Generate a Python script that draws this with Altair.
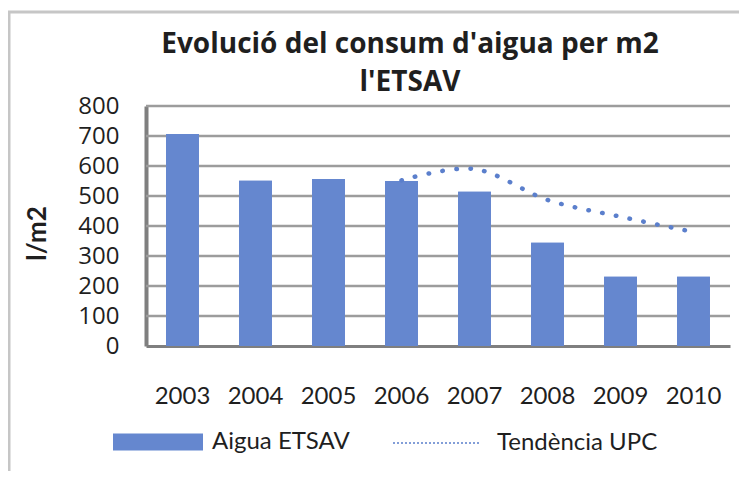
import altair as alt
import pandas as pd

# ---- data ----
years = ["2003", "2004", "2005", "2006", "2007", "2008", "2009", "2010"]
aigua_etsav = [707, 551, 557, 550, 514, 344, 231, 231]
trend_years = ["2006", "2007", "2008", "2009", "2010"]
tendencia_upc = [552, 590, 487, 431, 380]
y_ticks = [0, 100, 200, 300, 400, 500, 600, 700, 800]
title_lines = ["Evolució del consum d'aigua per m2", "l'ETSAV"]
y_title = "l/m2"
bar_series = "Aigua ETSAV"
line_series = "Tendència UPC"

bars_df = pd.DataFrame({"any": years, "valor": aigua_etsav, "serie": bar_series})
line_df = pd.DataFrame({"any": trend_years, "valor": tendencia_upc, "serie": line_series})
grid_df = pd.DataFrame({"nivell": y_ticks[1:]})
one_row = pd.DataFrame({"k": [0]})

FONT = "Lato"
TEXT = "#1f1f1f"
BLUE = "#6587cf"
GRID = "#9c9c9c"

x_axis = alt.Axis(
    title=None, labelAngle=0, labelFont=FONT, labelFontSize=24, labelColor=TEXT,
    labelPadding=38, ticks=False, tickSize=0, grid=False,
    domainColor="#7f7f7f", domainWidth=3,
)
y_axis = alt.Axis(
    values=y_ticks, title=y_title, titleFont=FONT, titleFontSize=26,
    titleFontWeight="bold", titleColor=TEXT, titleAngle=270,
    titleX=-109, titleY=127, titleAlign="center", titleBaseline="middle",
    labelFont="Open Sans", labelFontSize=24, labelColor=TEXT, labelPadding=27,
    labelOverlap=False, labelBound=False,
    ticks=False, tickSize=0, grid=False,
    domainColor="#7f7f7f", domainWidth=4,
)
x_scale = alt.Scale(domain=years, paddingInner=0.55, paddingOuter=0.275)
y_scale = alt.Scale(domain=[0, 800], nice=False)

bar_legend = alt.Legend(
    title=None, orient="none", legendX=-33, legendY=291, padding=0,
    symbolType="M-1,-0.19L1,-0.19L1,0.19L-1,0.19Z", symbolSize=8100,
    symbolStrokeWidth=0, labelFont=FONT, labelFontSize=24, labelColor=TEXT,
    labelOffset=9, labelLimit=400,
)
line_legend = alt.Legend(
    title=None, orient="none", legendX=246, legendY=293, padding=0,
    symbolType="stroke", symbolSize=7396, symbolStrokeWidth=1.5,
    symbolDash=[2, 2], labelFont=FONT, labelFontSize=24, labelColor=TEXT,
    labelOffset=17, labelLimit=400,
)

bar_color = alt.Color("serie:N", scale=alt.Scale(domain=[bar_series], range=[BLUE]), legend=bar_legend)

bars_under = alt.Chart(bars_df).mark_bar().encode(
    x=alt.X("any:N", sort=years, scale=x_scale, axis=x_axis),
    y=alt.Y("valor:Q", scale=y_scale, axis=y_axis),
    color=bar_color,
)

# horizontal gridlines at the y tick values
grid = alt.Chart(grid_df).mark_rule(color=GRID, strokeWidth=2.5, opacity=1).encode(
    y=alt.Y("nivell:Q", scale=y_scale, axis=y_axis),
    x=alt.value(0),
    x2=alt.value(584),
)

bars = alt.Chart(bars_df).mark_bar().encode(
    x=alt.X("any:N", sort=years, scale=x_scale, axis=x_axis),
    y=alt.Y("valor:Q", scale=y_scale, axis=y_axis),
    color=bar_color,
)

line = alt.Chart(line_df).mark_line(
    interpolate="cardinal", strokeWidth=4.5, strokeCap="round", strokeDash=[0.5, 13.5]
).encode(
    x=alt.X("any:N", sort=years, scale=x_scale, axis=x_axis),
    y=alt.Y("valor:Q", scale=y_scale, axis=y_axis),
    stroke=alt.Stroke("serie:N", scale=alt.Scale(domain=[line_series], range=["#5b7fcc"]), legend=line_legend),
)

# light grey chart-area frame (top and left edges, as in the reference)
frame_top = alt.Chart(one_row).mark_rule(color="#c6c6c6", strokeWidth=3).encode(
    x=alt.value(-138), x2=alt.value(600), y=alt.value(-94)
)
frame_left = alt.Chart(one_row).mark_rule(color="#c6c6c6", strokeWidth=3).encode(
    x=alt.value(-137), y=alt.value(-95), y2=alt.value(400)
)

# two-line chart title
title = alt.Chart(one_row).mark_text(
    text=title_lines, font="Open Sans", fontSize=28, fontWeight="bold", color=TEXT,
    align="center", baseline="top", lineHeight=38,
).encode(x=alt.value(264), y=alt.value(-75))

chart = alt.layer(frame_top, frame_left, bars_under, grid, bars, line, title).properties(
    width=584,
    height=240,
    autosize="none",
    padding={"left": 138, "top": 98, "right": 9, "bottom": 125},
).configure_view(stroke=None)

chart.save("out.html", embed_options={"renderer": "svg", "actions": False})
